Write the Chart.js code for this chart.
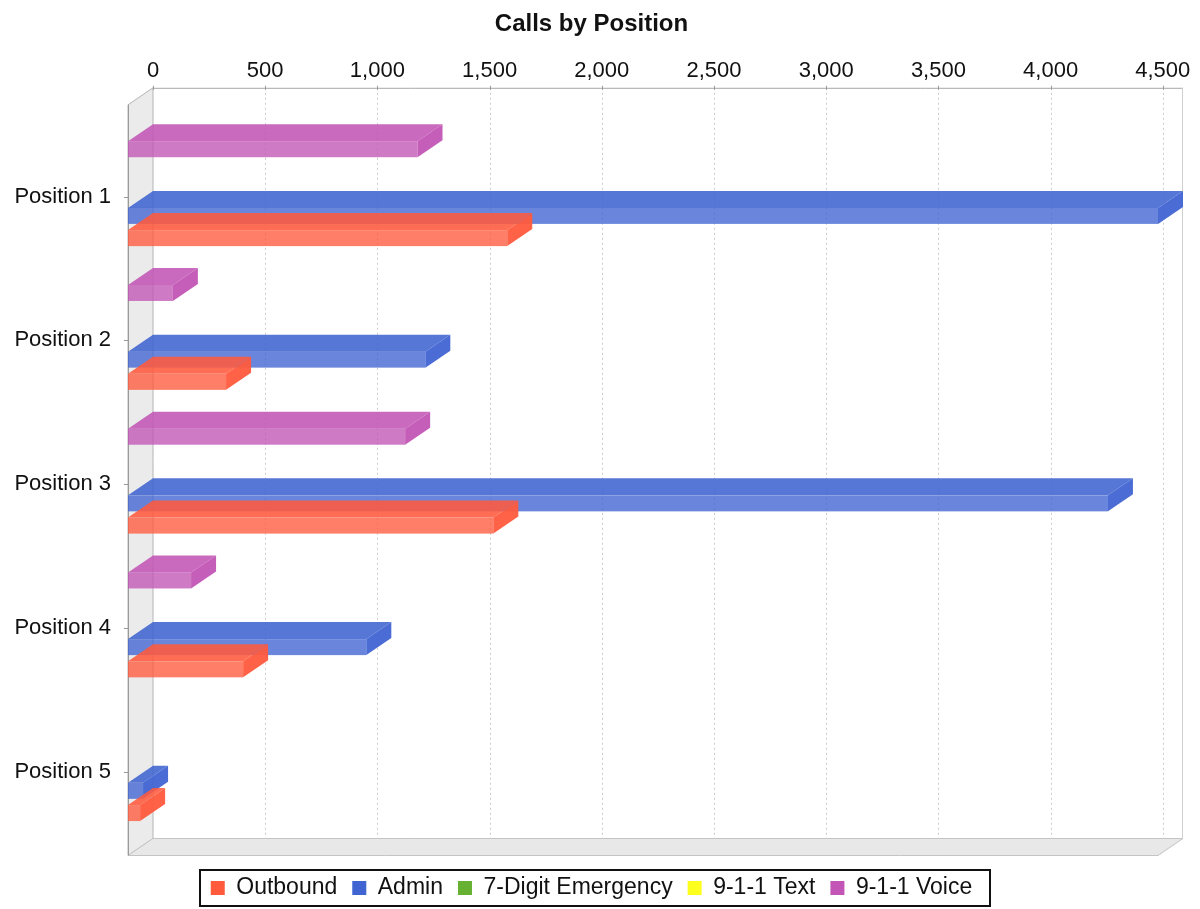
<!DOCTYPE html>
<html lang="en">
<head>
  <meta charset="UTF-8">
  <title>Calls by Position</title>
  <script src="https://cdn.jsdelivr.net/npm/chart.js@4"></script>
  <style>
    html, body { margin: 0; padding: 0; background: #ffffff; }
    #caixa { width: 1200px; height: 909px; }
  </style>
</head>
<body>
  <div id="caixa"><canvas id="grafico"></canvas></div>

  <script>
    // dados
    const positions   = ['Position 1', 'Position 2', 'Position 3', 'Position 4', 'Position 5'];
    const seriesNames = ['Outbound', 'Admin', '7-Digit Emergency', '9-1-1 Text', '9-1-1 Voice'];
    const outbound    = [1690, 437, 1628, 513, 54];
    const admin       = [4590, 1325, 4367, 1062, 67];
    const sevenDigit  = [0, 0, 0, 0, 0];
    const text911     = [0, 0, 0, 0, 0];
    const voice911    = [1290, 200, 1235, 281, 0];
    const xTicks      = [0, 500, 1000, 1500, 2000, 2500, 3000, 3500, 4000, 4500];
    const xMax        = 4590;

    const seriesData   = [outbound, admin, sevenDigit, text911, voice911];
    const seriesColors = ['#ff5a3c', '#4064d2', '#66b032', '#ffff1e', '#c255b5'];

    // profundidade do efeito 3D
    const DX = 25, DY = 17;
    const PLANE_TOP = 17, PLANE_BOTTOM = 15;
    const LEGEND_TOP = 861.5;

    function rgba(hex, a) {
      const n = parseInt(hex.slice(1), 16);
      return `rgba(${(n >> 16) & 255}, ${(n >> 8) & 255}, ${n & 255}, ${a})`;
    }

    function poly(ctx, pts, fill, stroke) {
      ctx.beginPath();
      ctx.moveTo(pts[0][0], pts[0][1]);
      for (let k = 1; k < pts.length; k++) ctx.lineTo(pts[k][0], pts[k][1]);
      ctx.closePath();
      if (fill) { ctx.fillStyle = fill; ctx.fill(); }
      if (stroke) { ctx.strokeStyle = stroke; ctx.stroke(); }
    }

    const barras3d = {
      id: 'barras3d',
      afterLayout(chart) {
        // desce a legenda ate a caixa de baixo
        const lg = chart.legend;
        const d = LEGEND_TOP - lg.top;
        lg.top += d;
        lg.bottom += d;
      },
      beforeDatasetsDraw(chart) {
        const { ctx, chartArea: a, scales: { x } } = chart;
        const L = a.left, R = a.right, T = a.top - PLANE_TOP, B = a.bottom + PLANE_BOTTOM;
        ctx.save();
        ctx.lineWidth = 1;

        // parede esquerda e piso
        poly(ctx, [[L - DX, T + DY], [L, T], [L, B], [L - DX, B + DY]], '#ebebeb', '#b4b4b4');
        poly(ctx, [[L - DX, B + DY], [L, B], [R, B], [R - DX, B + DY]], '#e8e8e8', '#c4c4c4');

        // linhas de grade pontilhadas
        ctx.setLineDash([2, 3]);
        ctx.strokeStyle = '#cccccc';
        x.ticks.forEach(t => {
          const px = Math.round(x.getPixelForValue(t.value)) + 0.5;
          if (px <= L + 1) return;
          ctx.beginPath(); ctx.moveTo(px, T); ctx.lineTo(px, B); ctx.stroke();
        });
        ctx.setLineDash([]);

        // moldura do plano de fundo
        ctx.strokeStyle = '#a8a8a8';
        ctx.beginPath(); ctx.moveTo(L, T + 0.5); ctx.lineTo(R, T + 0.5); ctx.stroke();
        ctx.strokeStyle = '#d0d0d0';
        ctx.beginPath(); ctx.moveTo(R - 0.5, T); ctx.lineTo(R - 0.5, B); ctx.stroke();
        ctx.beginPath(); ctx.moveTo(R - 0.5, B); ctx.lineTo(R - DX, B + DY); ctx.stroke();
        ctx.strokeStyle = '#9a9a9a';
        ctx.beginPath(); ctx.moveTo(L - DX + 0.5, T + DY); ctx.lineTo(L - DX + 0.5, B + DY); ctx.stroke();

        // pequenas marcas do eixo
        x.ticks.forEach(t => {
          const px = Math.round(x.getPixelForValue(t.value)) + 0.5;
          ctx.beginPath(); ctx.moveTo(px, T - 2); ctx.lineTo(px, T + 2); ctx.stroke();
        });
        const ys = chart.scales.y;
        positions.forEach((p, j) => {
          const py = Math.round(ys.getPixelForValue(j) + DY + 3) + 0.5;
          ctx.beginPath(); ctx.moveTo(L - DX - 4, py); ctx.lineTo(L - DX, py); ctx.stroke();
        });

        // barras: de cima para baixo, as de baixo ficam na frente
        const itens = [];
        chart.data.datasets.forEach((ds, i) => {
          if (!chart.isDatasetVisible(i)) return;
          chart.getDatasetMeta(i).data.forEach((el, j) => {
            if (ds.data[j]) itens.push({ el, cor: ds.backgroundColor });
          });
        });
        itens.sort((p, q) => p.el.y - q.el.y);
        itens.forEach(({ el, cor }) => {
          const { x: xe, y, base, height } = el.getProps(['x', 'y', 'base', 'height'], true);
          const top = y - height / 2, bot = y + height / 2;
          poly(ctx, [[base - DX, top + DY], [xe - DX, top + DY], [xe, top], [base, top]], rgba(cor, 0.88));
          poly(ctx, [[xe - DX, top + DY], [xe, top], [xe, bot], [xe - DX, bot + DY]], rgba(cor, 0.95));
          ctx.fillStyle = rgba(cor, 0.78);
          ctx.fillRect(base - DX, top + DY, xe - base, height);
        });

        ctx.restore();
        return false;
      },
      afterDraw(chart) {
        // caixa em volta da legenda
        const hb = chart.legend.legendHitBoxes;
        if (!hb || !hb.length) return;
        const ctx = chart.ctx;
        const l = Math.min(...hb.map(h => h.left)) - 11;
        const r = Math.max(...hb.map(h => h.left + h.width)) + 17;
        const cy = hb[0].top + hb[0].height / 2;
        ctx.save();
        ctx.strokeStyle = '#111111';
        ctx.lineWidth = 2;
        ctx.strokeRect(Math.round(l), Math.round(cy - 18), Math.round(r - l), 36);
        ctx.restore();
      }
    };

    Chart.defaults.font.family = '"Liberation Sans", Arial, sans-serif';
    Chart.defaults.color = '#111111';

    // datasets em ordem inversa: Outbound fica embaixo em cada grupo
    const datasets = seriesNames.map((nome, i) => ({
      label: nome,
      data: seriesData[i],
      backgroundColor: seriesColors[i],
      borderWidth: 0,
      categoryPercentage: 0.773,
      barPercentage: 0.72
    })).reverse();

    new Chart(document.getElementById('grafico'), {
      type: 'bar',
      data: { labels: positions, datasets: datasets },
      options: {
        indexAxis: 'y',
        responsive: true,
        maintainAspectRatio: false,
        animation: false,
        layout: { padding: { left: 0, right: 17, top: 0, bottom: 37.5 } },
        plugins: {
          title: {
            display: true,
            text: 'Calls by Position',
            font: { size: 24, weight: 'bold' },
            color: '#111111',
            padding: { top: 10, bottom: 9 }
          },
          legend: {
            position: 'bottom',
            reverse: true,
            labels: { boxWidth: 14, boxHeight: 14, padding: 15, font: { size: 23 }, color: '#111111' }
          },
          tooltip: { enabled: false }
        },
        scales: {
          x: {
            position: 'top',
            min: 0,
            max: xMax,
            afterBuildTicks(s) { s.ticks = xTicks.map(v => ({ value: v })); },
            grid: { display: false, drawTicks: false },
            border: { display: false },
            ticks: { padding: 21, font: { size: 22 }, color: '#111111' },
            afterFit(s) { s.height = 57; s.paddingLeft = 0; s.paddingRight = 0; }
          },
          y: {
            grid: { display: false, drawTicks: false },
            border: { display: false },
            ticks: { padding: 42, labelOffset: DY + 3, font: { size: 22 }, color: '#111111' },
            afterFit(s) { s.width = 153; s.paddingTop = 0; s.paddingBottom = 0; }
          }
        }
      },
      plugins: [barras3d]
    });
  </script>
</body>
</html>
